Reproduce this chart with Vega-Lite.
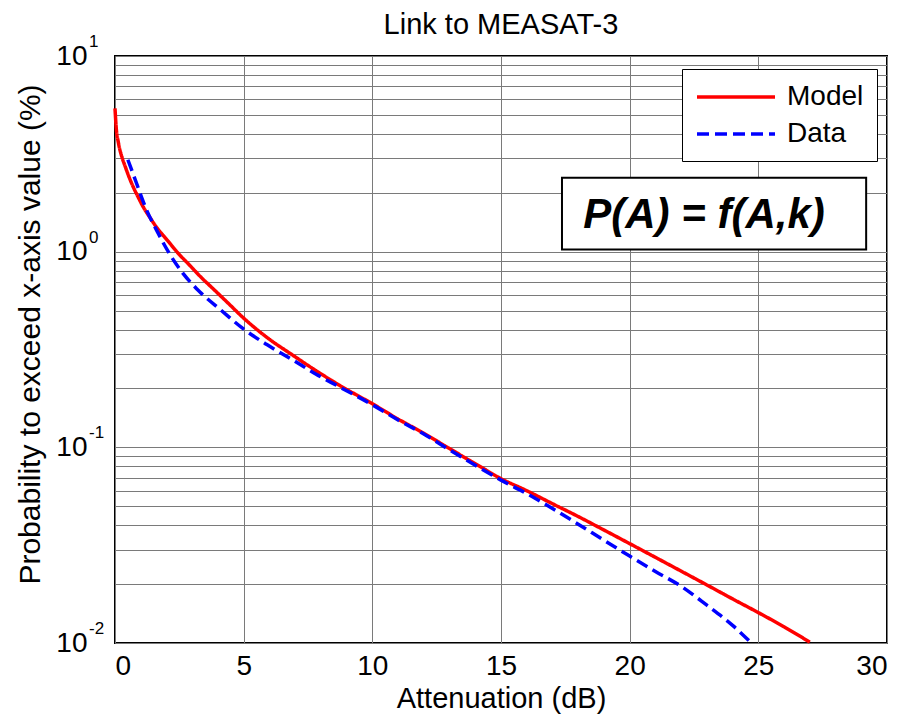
{
  "$schema": "https://vega.github.io/schema/vega-lite/v6.json",
  "width": 772,
  "height": 587,
  "autosize": {"type": "none"},
  "padding": {"left": 115, "top": 56, "right": 19, "bottom": 75},
  "background": "white",
  "title": {"text": "Link to MEASAT-3", "fontSize": 29, "font": "Liberation Sans", "fontWeight": "normal", "color": "black", "offset": 16, "dy": 23},
  "config": {
    "view": {"stroke": "black", "strokeWidth": 2},
    "axis": {"labelFont": "Liberation Sans", "titleFont": "Liberation Sans", "labelColor": "black", "titleColor": "black", "titleFontWeight": "normal", "labelFontSize": 28, "titleFontSize": 30, "domain": false, "ticks": false, "gridColor": "#7a7a7a", "gridWidth": 1, "gridOpacity": 1}
  },
  "datasets": {
    "curves": [
      {"series": "Model", "A": 0, "P": 5.4},
      {"series": "Model", "A": 0.05, "P": 4.25},
      {"series": "Model", "A": 0.13, "P": 3.62},
      {"series": "Model", "A": 0.25, "P": 3.1},
      {"series": "Model", "A": 0.39, "P": 2.74},
      {"series": "Model", "A": 0.55, "P": 2.4},
      {"series": "Model", "A": 0.71, "P": 2.14},
      {"series": "Model", "A": 0.9, "P": 1.9},
      {"series": "Model", "A": 1.1, "P": 1.69},
      {"series": "Model", "A": 1.35, "P": 1.5},
      {"series": "Model", "A": 1.62, "P": 1.33},
      {"series": "Model", "A": 1.9, "P": 1.2},
      {"series": "Model", "A": 2.14, "P": 1.1},
      {"series": "Model", "A": 2.4, "P": 1.0},
      {"series": "Model", "A": 2.91, "P": 0.85},
      {"series": "Model", "A": 3.3, "P": 0.75},
      {"series": "Model", "A": 3.82, "P": 0.645},
      {"series": "Model", "A": 4.4, "P": 0.545},
      {"series": "Model", "A": 4.98, "P": 0.46},
      {"series": "Model", "A": 5.9, "P": 0.365},
      {"series": "Model", "A": 6.92, "P": 0.295},
      {"series": "Model", "A": 7.8, "P": 0.247},
      {"series": "Model", "A": 8.74, "P": 0.207},
      {"series": "Model", "A": 10, "P": 0.167},
      {"series": "Model", "A": 11, "P": 0.1395},
      {"series": "Model", "A": 12, "P": 0.118},
      {"series": "Model", "A": 13, "P": 0.0985},
      {"series": "Model", "A": 14, "P": 0.0825},
      {"series": "Model", "A": 15, "P": 0.0692},
      {"series": "Model", "A": 16, "P": 0.06},
      {"series": "Model", "A": 17, "P": 0.0515},
      {"series": "Model", "A": 18, "P": 0.0443},
      {"series": "Model", "A": 19, "P": 0.0378},
      {"series": "Model", "A": 20, "P": 0.0322},
      {"series": "Model", "A": 21, "P": 0.0274},
      {"series": "Model", "A": 22, "P": 0.0233},
      {"series": "Model", "A": 23, "P": 0.0198},
      {"series": "Model", "A": 24, "P": 0.0168},
      {"series": "Model", "A": 25, "P": 0.0143},
      {"series": "Model", "A": 26, "P": 0.0121},
      {"series": "Model", "A": 27, "P": 0.0101},
      {"series": "Data", "A": 0.5, "P": 2.95},
      {"series": "Data", "A": 0.84, "P": 2.23},
      {"series": "Data", "A": 1.03, "P": 1.9},
      {"series": "Data", "A": 1.23, "P": 1.63},
      {"series": "Data", "A": 1.6, "P": 1.3},
      {"series": "Data", "A": 2.07, "P": 1.0},
      {"series": "Data", "A": 2.65, "P": 0.772},
      {"series": "Data", "A": 3.17, "P": 0.647},
      {"series": "Data", "A": 3.3, "P": 0.622},
      {"series": "Data", "A": 4.1, "P": 0.505},
      {"series": "Data", "A": 4.98, "P": 0.404},
      {"series": "Data", "A": 5.9, "P": 0.335},
      {"series": "Data", "A": 6.92, "P": 0.279},
      {"series": "Data", "A": 7.8, "P": 0.237},
      {"series": "Data", "A": 8.74, "P": 0.203},
      {"series": "Data", "A": 10, "P": 0.165},
      {"series": "Data", "A": 11, "P": 0.138},
      {"series": "Data", "A": 12, "P": 0.117},
      {"series": "Data", "A": 13, "P": 0.097},
      {"series": "Data", "A": 14, "P": 0.081},
      {"series": "Data", "A": 15, "P": 0.068},
      {"series": "Data", "A": 16, "P": 0.058},
      {"series": "Data", "A": 17, "P": 0.0487},
      {"series": "Data", "A": 18, "P": 0.0405},
      {"series": "Data", "A": 19, "P": 0.0335},
      {"series": "Data", "A": 20, "P": 0.0278},
      {"series": "Data", "A": 21, "P": 0.0232},
      {"series": "Data", "A": 22, "P": 0.0195},
      {"series": "Data", "A": 23, "P": 0.0156},
      {"series": "Data", "A": 24, "P": 0.0123},
      {"series": "Data", "A": 24.73, "P": 0.01}
    ],
    "exps": [
      {"v": 10, "e": "1"},
      {"v": 1, "e": "0"},
      {"v": 0.1, "e": "-1"},
      {"v": 0.01, "e": "-2"}
    ],
    "box": [
      {"x1": 17.37, "x2": 29.19, "y1": 1.027, "y2": 2.39, "tx": 22.89, "ty": 1.314, "label": "P(A) = f(A,k)"}
    ]
  },
  "layer": [
    {
      "data": {"name": "curves"},
      "transform": [{"filter": "datum.series === 'Model'"}],
      "mark": {"type": "line", "strokeWidth": 3.5, "interpolate": "monotone"},
      "encoding": {
        "x": {"field": "A", "type": "quantitative", "scale": {"domain": [0, 30], "nice": false},
              "axis": {"values": [0, 5, 10, 15, 20, 25, 30], "title": "Attenuation (dB)", "labelPadding": 9, "titlePadding": 4, "titleFontSize": 29}},
        "y": {"field": "P", "type": "quantitative", "scale": {"type": "log", "domain": [0.01, 10], "nice": false},
              "axis": {"values": [0.01, 0.02, 0.03, 0.04, 0.05, 0.06, 0.07, 0.08, 0.09, 0.1, 0.2, 0.3, 0.4, 0.5, 0.6, 0.7, 0.8, 0.9, 1, 2, 3, 4, 5, 6, 7, 8, 9, 10],
                       "labelExpr": "(datum.value == 10 || datum.value == 1 || abs(datum.value - 0.1) < 1e-9 || abs(datum.value - 0.01) < 1e-9) ? '10' : ''",
                       "title": "Probability to exceed x-axis value (%)", "labelPadding": 28, "titlePadding": 10, "titleY": 278}},
        "color": {"field": "series", "type": "nominal", "scale": {"domain": ["Model", "Data"], "range": ["#ff0000", "#0000ff"]},
                  "legend": {"title": null, "orient": "none", "legendX": 567, "legendY": 13, "labelFontSize": 28, "labelFont": "Liberation Sans", "labelColor": "black", "symbolType": "M-1,0H5", "symbolSize": 676, "symbolStrokeWidth": 3.5, "strokeColor": "black", "fillColor": "white", "padding": 13, "rowPadding": 8, "labelOffset": 62, "cornerRadius": 0}},
        "strokeDash": {"field": "series", "type": "nominal", "scale": {"domain": ["Model", "Data"], "range": [[1, 0], [12, 6]]},
                  "legend": {"title": null, "orient": "none", "legendX": 567, "legendY": 13, "labelFontSize": 28, "labelFont": "Liberation Sans", "labelColor": "black", "symbolType": "M-1,0H5", "symbolSize": 676, "symbolStrokeWidth": 3.5, "strokeColor": "black", "fillColor": "white", "padding": 13, "rowPadding": 8, "labelOffset": 62, "cornerRadius": 0}}
      }
    },
    {
      "data": {"name": "curves"},
      "transform": [{"filter": "datum.series === 'Data'"}],
      "mark": {"type": "line", "strokeWidth": 3.5, "interpolate": "monotone"},
      "encoding": {
        "x": {"field": "A", "type": "quantitative"},
        "y": {"field": "P", "type": "quantitative"},
        "color": {"field": "series", "type": "nominal"},
        "strokeDash": {"field": "series", "type": "nominal"}
      }
    },
    {
      "data": {"name": "box"},
      "mark": {"type": "rect", "fill": "white", "stroke": "black", "strokeWidth": 2},
      "encoding": {
        "x": {"field": "x1", "type": "quantitative"},
        "x2": {"field": "x2"},
        "y": {"field": "y1", "type": "quantitative"},
        "y2": {"field": "y2"}
      }
    },
    {
      "data": {"name": "box"},
      "mark": {"type": "text", "font": "Liberation Sans", "fontSize": 42, "fontWeight": "bold", "fontStyle": "italic", "align": "center", "baseline": "alphabetic", "color": "black"},
      "encoding": {
        "x": {"field": "tx", "type": "quantitative"},
        "y": {"field": "ty", "type": "quantitative"},
        "text": {"field": "label"}
      }
    },
    {
      "data": {"name": "exps"},
      "mark": {"type": "text", "font": "Liberation Sans", "fontSize": 17, "align": "left", "baseline": "alphabetic", "dx": -26, "dy": -9, "color": "black"},
      "encoding": {
        "x": {"datum": 0, "type": "quantitative"},
        "y": {"field": "v", "type": "quantitative"},
        "text": {"field": "e"}
      }
    }
  ]
}
